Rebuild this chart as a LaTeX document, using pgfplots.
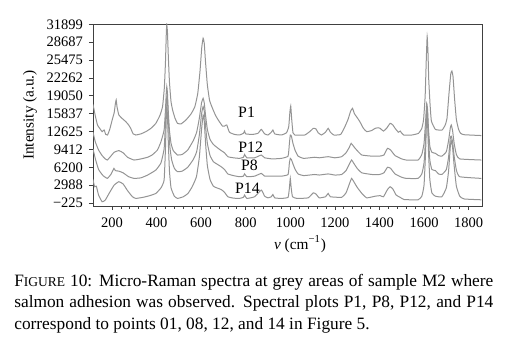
\documentclass[border=0pt]{standalone}
\usepackage{pgfplots}
\pgfplotsset{compat=1.18}
\usepackage{fontspec}
\setmainfont{Liberation Serif}
\pgfplotsset{spec/.style={color=black!42, line width=0.6pt, mark=none, smooth, tension=0.25}}

\begin{document}
\begin{tikzpicture}
\path[use as bounding box] (0,0) rectangle (309.6pt,212.4pt);
\begin{axis}[
  at={(55.8pt,88.8pt)}, anchor=south west,
  scale only axis, width=233.4pt, height=109.2pt,
  xmin=115, xmax=1860, ymin=-765, ymax=31950,
  axis line style={black!75, line width=0.5pt},
  tick pos=left, tick align=outside,
  major tick length=2.5pt, minor tick length=1.5pt,
  every tick/.style={black!75, line width=0.4pt},
  xtick={200,400,...,1800},
  minor x tick num=4,
  ytick={-225,2988,6200,9412,12625,15837,19050,22262,25475,28687,31899},
  yticklabels={−225,2988,6200,9412,12625,15837,19050,22262,25475,28687,31899},
  scaled y ticks=false,
  minor y tick num=3,
  /pgf/number format/assume math mode=true,
  /pgf/number format/1000 sep={},
  ticklabel style={font=\fontsize{8.7}{10}\selectfont},
  xticklabel style={yshift=-1pt},
  ylabel={Intensity (a.u.)},
  ylabel style={at={(axis description cs:-0.162,0.5)}, anchor=center, rotate=0, font=\fontsize{9.2}{10}\selectfont},
  xlabel={\textit{ν} (cm\textsuperscript{−1})},
  xlabel style={at={(axis description cs:0.532,-0.209)}, anchor=center, font=\fontsize{9.2}{10}\selectfont},
]
% P1
\addplot[spec] coordinates {
(115,17500)(125,15500)(135,13800)(145,13200)(156,12600)(165,12900)(172,12100)(180,12000)
(190,13000)(201,14700)(210,16000)(215,17500)(219,18300)(223,17000)(231,15600)(245,15000)
(262,14400)(275,13800)(284,13200)(295,12200)(307,12000)(330,12200)(352,12600)(375,13200)
(397,14100)(415,15500)(427,17100)(435,20500)(440,25000)(444,30500)(446,31850)(449,30500)
(453,26000)(458,21500)(465,18000)(472,16500)(483,15000)(494,14100)(510,14000)(532,14700)
(555,15800)(572,17100)(585,19500)(595,23500)(603,27800)(609,29400)(614,28500)(620,25000)
(628,21000)(638,18200)(651,16800)(665,15500)(680,14500)(696,13600)(705,13600)(715,13800)
(727,12500)(750,12100)(772,12000)(790,12300)(795,12700)(800,12200)(830,12100)(855,12300)
(870,13000)(885,12200)(900,12000)(915,12500)(922,12900)(930,12200)(960,12000)(983,12400)
(993,13500)(998,16000)(1002,17200)(1006,15000)(1012,12400)(1020,12000)(1065,12000)(1090,12700)
(1103,13200)(1115,13100)(1125,12400)(1140,12000)(1158,12500)(1170,13200)(1180,12500)(1195,12000)
(1226,12100)(1245,13500)(1259,14800)(1270,16200)(1279,16800)(1288,15800)(1297,15300)(1312,14400)
(1328,13200)(1343,12600)(1365,12800)(1381,13200)(1395,13300)(1403,13200)(1418,12700)(1432,13200)
(1448,14100)(1460,13800)(1470,13200)(1485,12500)(1493,12700)(1508,12000)(1546,12000)(1575,12300)
(1590,13200)(1598,14800)(1605,19000)(1610,25500)(1614,29700)(1618,26500)(1621,22000)(1627,17500)
(1633,14500)(1651,13000)(1681,12900)(1695,13800)(1703,15000)(1712,19500)(1720,23000)(1725,23500)
(1730,22500)(1737,18500)(1745,14800)(1755,13000)(1764,12300)(1780,12050)(1857,11900)
};
% P12
\addplot[spec] coordinates {
(115,12500)(125,10800)(140,9300)(156,8300)(170,7700)(179,7500)(195,8200)(210,8900)
(231,9200)(250,8800)(270,8000)(299,7500)(330,7700)(360,8000)(380,8400)(404,9300)
(420,10800)(434,12900)(440,16500)(444,19800)(446,20700)(449,19500)(453,16000)(458,12800)
(465,10500)(475,9200)(494,8400)(515,8500)(540,9300)(565,11000)(580,12500)(592,15000)
(602,17800)(609,18600)(614,17800)(620,15500)(628,13000)(640,11200)(655,10300)(670,9800)
(690,9200)(705,8800)(720,8100)(745,7900)(772,7800)(790,8000)(795,8500)(805,7900)
(840,7900)(870,8400)(885,7900)(920,7700)(960,7800)(990,8200)(996,10500)(1000,12000)
(1005,11800)(1012,10500)(1022,9200)(1035,8200)(1060,7800)(1110,8000)(1130,7900)(1170,8100)
(1200,7900)(1230,8100)(1250,8800)(1265,9800)(1273,10500)(1285,9900)(1300,9200)(1321,8400)
(1366,8200)(1400,8200)(1420,8400)(1436,9600)(1450,9300)(1470,8300)(1500,7700)(1520,7500)
(1573,7500)(1590,8500)(1600,10500)(1607,14500)(1612,17700)(1616,16500)(1620,13000)(1626,10000)
(1635,8900)(1651,8700)(1665,8300)(1680,8200)(1700,9000)(1710,11000)(1718,13300)(1722,13800)
(1728,12800)(1735,10500)(1745,8500)(1760,7700)(1857,7500)
};
% P8
\addplot[spec] coordinates {
(115,9500)(125,7800)(140,5800)(160,4700)(179,4200)(195,4900)(209,6000)(215,5600)
(231,5500)(250,5200)(275,4500)(299,4200)(330,4300)(360,4800)(397,5700)(420,7000)
(434,9500)(440,14000)(444,18000)(447,19000)(450,17500)(455,13000)(460,9800)(468,7500)
(480,6000)(494,5400)(515,5500)(540,6200)(565,7600)(580,9000)(592,12000)(602,15800)
(609,17100)(614,16300)(620,13500)(628,10500)(640,8300)(655,7200)(670,6800)(690,6300)
(705,5800)(720,5000)(745,4700)(772,4500)(790,4600)(795,5000)(805,4500)(840,4600)
(870,5100)(885,4600)(920,4600)(960,4600)(990,4900)(996,7000)(1000,7800)(1005,7600)
(1012,6800)(1022,5800)(1035,5000)(1060,4700)(1110,4900)(1130,4800)(1170,5000)(1200,4800)
(1230,4900)(1250,5600)(1265,6800)(1275,7500)(1285,6900)(1300,6000)(1321,5200)(1366,4900)
(1400,4900)(1420,5200)(1436,6200)(1450,6000)(1470,5000)(1500,4400)(1520,4200)(1573,4200)
(1590,5000)(1600,7000)(1607,11500)(1612,16800)(1616,15500)(1620,11500)(1626,7500)(1635,5800)
(1651,5600)(1665,5000)(1680,4900)(1700,5800)(1710,8000)(1718,11500)(1722,11800)(1728,10800)
(1735,8200)(1745,5700)(1760,4500)(1857,4200)
};
% P14
\addplot[spec] coordinates {
(115,4000)(122,2700)(130,2800)(140,1200)(156,0)(170,300)(190,1700)(210,3000)
(231,3600)(250,3200)(270,2000)(292,900)(307,600)(340,800)(370,1100)(397,1500)
(420,2500)(434,3900)(440,9500)(444,15500)(446,17100)(449,15500)(453,10500)(458,5500)
(465,2500)(480,1000)(494,600)(520,900)(541,1500)(560,2700)(579,4500)(592,8000)
(602,13000)(609,15600)(614,14500)(620,10500)(628,6500)(640,4000)(655,2800)(670,2500)
(690,2200)(705,1700)(720,900)(745,650)(772,600)(790,800)(795,1200)(805,600)
(840,900)(870,2100)(885,1000)(900,700)(915,900)(922,1300)(930,700)(960,600)
(990,800)(996,2500)(1000,4200)(1004,2500)(1010,900)(1030,600)(1080,700)(1103,1600)
(1115,1400)(1130,700)(1158,900)(1170,1500)(1180,900)(1230,800)(1250,1600)(1265,3200)
(1275,4200)(1285,3600)(1300,2600)(1321,1500)(1343,700)(1381,1000)(1403,1100)(1418,900)
(1436,2200)(1448,2700)(1460,2300)(1475,1200)(1493,800)(1510,400)(1573,350)(1590,1000)
(1600,3000)(1607,9000)(1612,16000)(1616,14000)(1620,9000)(1626,4000)(1635,1600)(1651,1000)
(1680,900)(1700,2500)(1710,5500)(1718,10000)(1722,11000)(1728,9800)(1735,6500)(1745,2800)
(1760,1000)(1780,500)(1857,350)
};
\node[font=\fontsize{9.5}{10}\selectfont] at (axis cs:804,16100) {P1};
\node[font=\fontsize{9.5}{10}\selectfont] at (axis cs:822,9800) {P12};
\node[font=\fontsize{9.5}{10}\selectfont] at (axis cs:817,6550) {P8};
\node[font=\fontsize{9.5}{10}\selectfont] at (axis cs:808,2450) {P14};
\end{axis}
\node[anchor=base west, inner sep=0, font=\fontsize{10.4}{12}\selectfont] at (8.4pt,40.8pt)
  {\makebox[287.4pt][s]{F{\fontsize{8.1}{9}\selectfont IGURE} 10: Micro-Raman spectra at grey areas of sample M2 where}};
\node[anchor=base west, inner sep=0, font=\fontsize{10.4}{12}\selectfont] at (8.4pt,27.9pt)
  {\makebox[287.4pt][s]{salmon adhesion was observed. Spectral plots P1, P8, P12, and P14}};
\node[anchor=base west, inner sep=0, font=\fontsize{10.4}{12}\selectfont] at (8.4pt,15pt)
  {correspond to points 01, 08, 12, and 14 in Figure 5.};
\end{tikzpicture}
\end{document}
